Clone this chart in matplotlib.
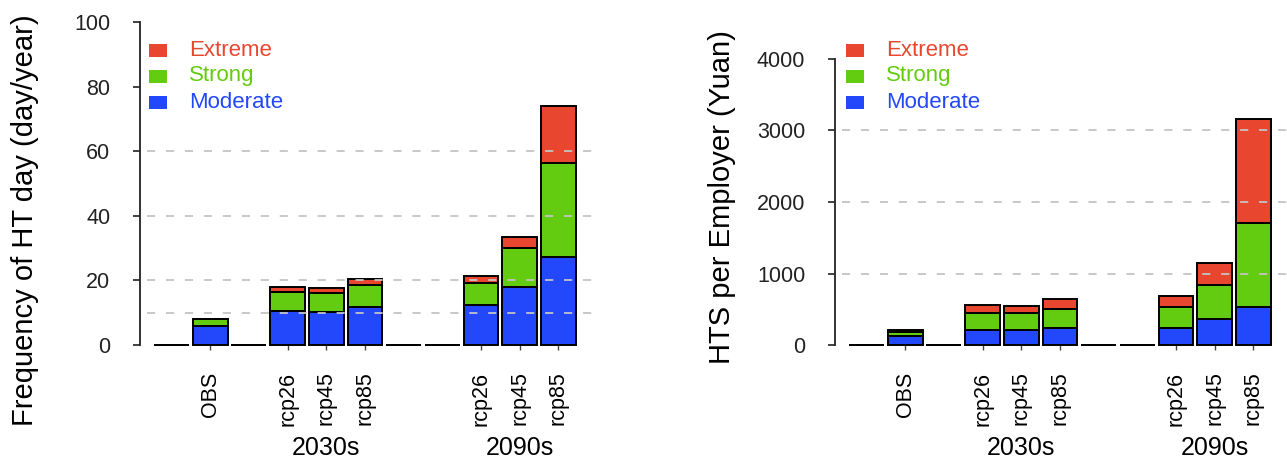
import matplotlib
matplotlib.use('Agg')
import matplotlib.pyplot as plt
from matplotlib.patches import Rectangle
import numpy as np

plt.rcParams['font.family'] = ['Liberation Sans', 'DejaVu Sans']

# bar slots (empty strings are the zero-height spacer bars)
slots = ['', 'OBS', '', 'rcp26', 'rcp45', 'rcp85', '', '', 'rcp26', 'rcp45', 'rcp85']
groups = ['2030s', '2090s']
group_slot = [4, 9]
levels = ['Moderate', 'Strong', 'Extreme']
colors = ['#2347FA', '#64CC10', '#E9462F']

# frequency of HT day (day/year)
freq_moderate = [0, 5.9, 0, 10.5, 10.3, 11.9, 0, 0, 12.4, 17.9, 27.1]
freq_strong = [0, 2.1, 0, 5.8, 5.7, 6.6, 0, 0, 6.9, 12.0, 29.1]
freq_extreme = [0, 0.2, 0, 1.6, 1.5, 1.9, 0, 0, 2.1, 3.6, 17.8]

# HTS per employer (Yuan)
hts_moderate = [0, 126, 0, 210, 210, 242, 0, 0, 242, 359, 536]
hts_strong = [0, 51, 0, 233, 233, 257, 0, 0, 285, 480, 1175]
hts_extreme = [0, 33, 0, 117, 102, 140, 0, 0, 158, 304, 1446]

W, H = 1287, 470
fig = plt.figure(figsize=(W / 100, H / 100), dpi=100)


def px(x, y):
    return x / W, 1 - y / H


def panel(rect_px, series, ymax, yticks, grid, ylabel, ylabel_xy, leg_x):
    x0, top, x1, bottom = rect_px
    ax = fig.add_axes([x0 / W, 1 - bottom / H, (x1 - x0) / W, (bottom - top) / H])
    x = np.arange(len(slots))
    base = np.zeros(len(slots))
    for vals, c in zip(series, colors):
        ax.bar(x, vals, width=0.9, bottom=base, color=c, edgecolor='black',
               linewidth=1.4, clip_on=False, zorder=2)
        base = base + np.array(vals)

    # 38.7 px per slot, first bar starts 14 px right of the axis line
    slot_w = 38.7
    ax.set_xlim(-0.45 - 14 / slot_w,
                len(slots) - 0.55 + (x1 - x0 - 14 - slot_w * 10.9) / slot_w)
    ax.set_ylim(0, ymax)

    for g in grid:
        ax.axhline(g, xmin=0.015, xmax=1, color='#c4c4c4', lw=1.3,
                   dashes=(4.5, 6), zorder=3)

    for s in ['top', 'right', 'bottom']:
        ax.spines[s].set_visible(False)
    ax.spines['left'].set_linewidth(1.3)
    ax.spines['left'].set_color('#222222')
    ax.set_yticks(yticks)
    ax.set_yticklabels([str(t) for t in yticks], fontsize=15.5)
    ax.tick_params(axis='y', direction='out', length=5, width=1.2, pad=16.5, colors='#222222')

    idx = [i for i, s in enumerate(slots) if s]
    ax.set_xticks(idx)
    ax.set_xticklabels([slots[i] for i in idx], rotation=90, fontsize=15.5, va='top')
    ax.tick_params(axis='x', direction='out', length=3.6, width=1.0, pad=15.5, colors='#444444')
    for lab in ax.get_xticklabels():
        lab.set_color('black')

    for g, i in zip(groups, group_slot):
        ax.annotate(g, xy=(i, 1 - 448 / H), xycoords=('data', 'figure fraction'),
                    ha='center', va='center', fontsize=18)

    fig.text(*px(*ylabel_xy), ylabel, rotation=90, ha='center', va='center', fontsize=21)

    # legend, top to bottom: Extreme, Strong, Moderate
    for k, yc in zip([2, 1, 0], [50, 76, 102]):
        fx, fy = px(leg_x, yc + 6.5)
        fig.add_artist(Rectangle((fx, fy), 18 / W, 13 / H, transform=fig.transFigure,
                                 facecolor=colors[k], edgecolor='none'))
        fig.text(*px(leg_x + 40, yc), levels[k], color=colors[k], fontsize=16,
                 ha='left', va='center')
    return ax


panel((140, 22, 597, 345), [freq_moderate, freq_strong, freq_extreme], 100,
      [0, 20, 40, 60, 80, 100], [10, 20, 40, 60],
      'Frequency of HT day (day/year)', (25, 220), 149)
panel((835, 59, 1287, 345), [hts_moderate, hts_strong, hts_extreme], 4000,
      [0, 1000, 2000, 3000, 4000], [1000, 2000, 3000],
      'HTS per Employer (Yuan)', (722, 197), 846)

fig.savefig('out.png', dpi=100)
